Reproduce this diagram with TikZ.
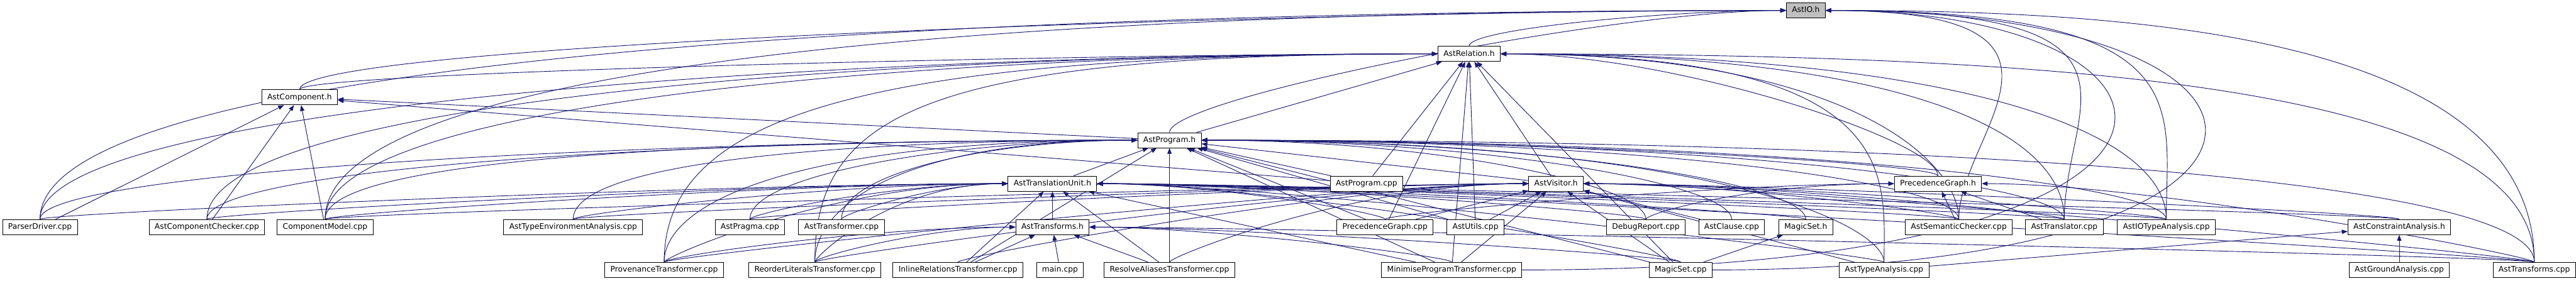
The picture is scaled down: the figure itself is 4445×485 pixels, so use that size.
\documentclass[tikz,border=0pt]{standalone}
\usepackage{fontspec}
\setmainfont{DejaVu Sans}
\usepackage{tikz}
\usetikzlibrary{arrows.meta,backgrounds}
\usepackage{xcolor}
\definecolor{midnight}{RGB}{25,25,112}
\definecolor{rootgray}{RGB}{191,191,191}

\begin{document}
\begin{tikzpicture}[x=0.75pt, y=-0.75pt,
    every node/.style={font=\fontsize{10}{12}\selectfont},
    filebox/.style={draw=black, fill=white, line width=0.75pt, inner xsep=7.2pt, inner ysep=0pt,
        minimum height=19.5pt, text height=7.6pt, text depth=2.2pt},
    dep/.style={draw=midnight, line width=0.75pt, -{Triangle[length=7.5pt,width=5.6pt]}},
    % enter the header from its left / right side
    L/.style 2 args={dep, to path={(\tikztostart.north) .. controls +(0,-#1) and +(-#2,0) .. (\tikztotarget.west) \tikztonodes}},
    R/.style 2 args={dep, to path={(\tikztostart.north) .. controls +(0,-#1) and +(#2,0) .. (\tikztotarget.east) \tikztonodes}},
    RR/.style 2 args={dep, to path={(\tikztostart.east) .. controls +(#1,0) and +(#2,0) .. (\tikztotarget.east) \tikztonodes}}]
    \useasboundingbox (0,0) rectangle (4445,485);

    % headers
    \node[filebox, fill=rootgray] (io) at (3116,18) {AstIO.h};
    \node[filebox] (rel) at (2535,93) {AstRelation.h};
    \node[filebox] (comp) at (517,168) {AstComponent.h};
    \node[filebox] (prog) at (2018,242) {AstProgram.h};
    \node[filebox] (tu) at (1816,317) {AstTranslationUnit.h};
    \node[filebox] (progcpp) at (2358,317) {AstProgram.cpp};
    \node[filebox] (vis) at (2685,317) {AstVisitor.h};
    \node[filebox] (pgh) at (3344,317) {PrecedenceGraph.h};

    % row of sources and headers
    \node[filebox] (parser) at (69,392) {ParserDriver.cpp};
    \node[filebox] (cmpchk) at (357,392) {AstComponentChecker.cpp};
    \node[filebox] (cmodel) at (561,392) {ComponentModel.cpp};
    \node[filebox] (typeenv) at (989,392) {AstTypeEnvironmentAnalysis.cpp};
    \node[filebox] (pragma) at (1294,392) {AstPragma.cpp};
    \node[filebox] (transformer) at (1452,392) {AstTransformer.cpp};
    \node[filebox] (trh) at (1816,392) {AstTransforms.h};
    \node[filebox] (pgcpp) at (2390,392) {PrecedenceGraph.cpp};
    \node[filebox] (utils) at (2546,392) {AstUtils.cpp};
    \node[filebox] (debug) at (2840,392) {DebugReport.cpp};
    \node[filebox] (clause) at (2988,392) {AstClause.cpp};
    \node[filebox] (msh) at (3116,392) {MagicSet.h};
    \node[filebox] (semchk) at (3380,392) {AstSemanticChecker.cpp};
    \node[filebox] (transl) at (3562,392) {AstTranslator.cpp};
    \node[filebox] (iotype) at (3738,392) {AstIOTypeAnalysis.cpp};
    \node[filebox] (cah) at (4140,392) {AstConstraintAnalysis.h};

    % bottom row
    \node[filebox] (prov) at (1146,466) {ProvenanceTransformer.cpp};
    \node[filebox] (reorder) at (1406,466) {ReorderLiteralsTransformer.cpp};
    \node[filebox] (inline) at (1653,466) {InlineRelationsTransformer.cpp};
    \node[filebox] (main) at (1829,466) {main.cpp};
    \node[filebox] (resolve) at (2018,466) {ResolveAliasesTransformer.cpp};
    \node[filebox] (minimise) at (2505,466) {MinimiseProgramTransformer.cpp};
    \node[filebox] (magiccpp) at (2900,466) {MagicSet.cpp};
    \node[filebox] (typeana) at (3251,466) {AstTypeAnalysis.cpp};
    \node[filebox] (ground) at (4140,466) {AstGroundAnalysis.cpp};
    \node[filebox] (transcpp) at (4373,466) {AstTransforms.cpp};

    % include edges, arrow at the included file
    \begin{scope}[on background layer]
        \path (rel) edge[L={30}{200}] (io);
        \path (comp) edge[L={80}{800}] (io) edge[L={30}{600}] (rel);
        \path (prog) edge[L={60}{300}] (io) edge[dep] (rel) edge[dep] (comp);
        \path (tu) edge[dep] (prog);
        \path (progcpp) edge[dep] (rel) edge[dep] (prog) edge[dep] (comp);
        \path (vis) edge[dep] (rel) edge[dep] (prog);
        \path (pgh) edge[R={60}{300}] (rel) edge[R={20}{600}] (prog);
        \path (parser) edge[L={300}{1200}] (io) edge[L={200}{1000}] (rel) edge[dep] (comp)
            edge[L={80}{900}] (prog) edge[L={10}{500}] (tu);
        \path (cmpchk) edge[L={200}{1000}] (rel) edge[dep] (comp) edge[L={80}{900}] (prog)
            edge[L={10}{450}] (tu);
        \path (cmodel) edge[L={250}{1500}] (io) edge[L={200}{900}] (rel) edge[dep] (comp)
            edge[L={100}{800}] (prog) edge[L={10}{400}] (tu) edge[L={10}{300}] (vis);
        \path (typeenv) edge[L={100}{500}] (prog) edge[L={10}{300}] (tu) edge[L={10}{300}] (vis);
        \path (pragma) edge[L={80}{300}] (prog) edge[L={10}{200}] (tu) edge[L={10}{300}] (vis);
        \path (transformer) edge[L={80}{250}] (prog) edge[L={10}{120}] (tu);
        \path (trh) edge[dep] (tu);
        \path (pgcpp) edge[dep] (rel) edge[dep] (prog) edge[R={10}{200}] (tu) edge[dep] (vis)
            edge[L={10}{300}] (pgh);
        \path (utils) edge[dep] (rel) edge[dep] (prog) edge[dep] (vis);
        \path (debug) edge[R={60}{400}] (prog) edge[R={10}{300}] (tu) edge[L={10}{250}] (pgh);
        \path (clause) edge[R={60}{500}] (prog) edge[dep] (vis);
        \path (msh) edge[R={60}{600}] (prog) edge[R={10}{300}] (tu);
        \path (semchk) edge[R={150}{500}] (io) edge[R={100}{600}] (rel) edge[R={60}{800}] (prog)
            edge[R={10}{300}] (tu) edge[R={10}{250}] (vis) edge[dep] (pgh);
        \path (transl) edge[R={200}{600}] (io) edge[R={150}{700}] (rel) edge[R={60}{900}] (prog)
            edge[R={10}{300}] (tu) edge[R={10}{300}] (vis) edge[dep] (pgh);
        \path (iotype) edge[R={200}{650}] (io) edge[R={150}{800}] (rel) edge[R={60}{1000}] (prog)
            edge[R={10}{300}] (tu) edge[R={10}{300}] (vis);
        \path (cah) edge[R={10}{300}] (tu) edge[R={10}{300}] (vis);
        \path (prov) edge[L={250}{1000}] (rel) edge[L={100}{600}] (prog) edge[L={10}{300}] (tu)
            edge[L={10}{300}] (vis) edge[L={10}{250}] (trh);
        \path (reorder) edge[L={250}{900}] (rel) edge[L={100}{400}] (prog) edge[L={10}{200}] (tu)
            edge[L={10}{300}] (vis) edge[L={10}{150}] (trh);
        \path (inline) edge[dep] (prog) edge[dep] (tu) edge[L={10}{300}] (vis) edge[dep] (trh);
        \path (main) edge[dep] (trh);
        \path (resolve) edge[dep] (prog) edge[dep] (tu) edge[L={10}{300}] (vis) edge[dep] (trh);
        \path (minimise) edge[RR={1300}{700}] (io) edge[dep] (rel) edge[dep] (prog) edge[dep] (tu)
            edge[dep] (vis) edge[R={10}{200}] (trh);
        \path (magiccpp) edge[RR={1100}{900}] (io) edge[dep] (rel) edge[dep] (prog) edge[R={10}{300}] (tu)
            edge[dep] (vis) edge[dep] (msh) edge[R={10}{250}] (trh);
        \path (typeana) edge[R={150}{700}] (rel) edge[R={60}{900}] (prog) edge[R={10}{300}] (tu)
            edge[dep] (vis) edge[dep] (cah);
        \path (ground) edge[dep] (cah);
        \path (transcpp) edge[R={400}{500}] (io) edge[R={300}{1000}] (rel) edge[R={150}{1200}] (prog)
            edge[R={10}{300}] (tu) edge[R={10}{300}] (vis) edge[R={10}{300}] (pgh) edge[R={10}{300}] (trh);
    \end{scope}
\end{tikzpicture}
\end{document}
